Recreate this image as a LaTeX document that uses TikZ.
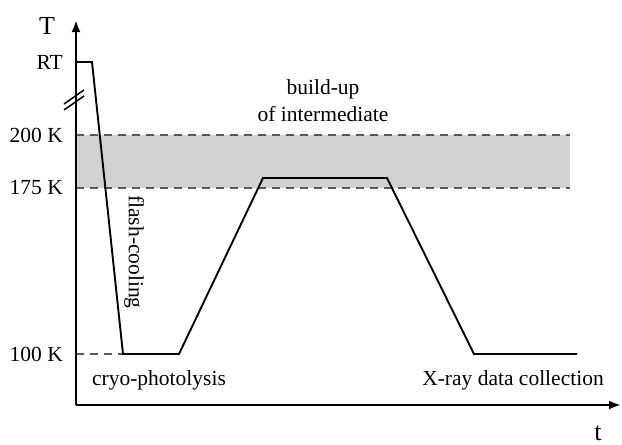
\documentclass[tikz,border=0pt]{standalone}
\usepackage{fontspec}
\setmainfont{Liberation Serif}
\usetikzlibrary{arrows.meta}
\begin{document}
\begin{tikzpicture}[x=1pt,y=-1pt,
  lbl/.style={font=\fontsize{21.5}{24}\selectfont, inner sep=0pt},
  big/.style={font=\fontsize{26}{28}\selectfont, inner sep=0pt},
  axis/.style={line width=2.5pt, -{Latex[length=12pt,width=9pt]}},
  curve/.style={line width=1.9pt, line join=miter},
  level/.style={line width=1.2pt, dash pattern=on 8pt off 6pt, black!65}]
\useasboundingbox (0,0) rectangle (622,445);
% band
\fill[gray!35] (76,135) rectangle (570,188);
\draw[level] (76,135) -- (570,135);
\draw[level] (76,188) -- (570,188);
\draw[level] (76,354) -- (123,354);
% axes
\coordinate (o) at (76,405);
\coordinate (ytip) at (76,20);
\coordinate (xtip) at (621,405);
\draw[axis] (o) -- (ytip);
\draw[axis] (o) -- (xtip);
% break marks
\draw[line width=1.5pt] (64,104) -- (84,90);
\draw[line width=1.5pt] (64,110) -- (84,96);
% curve
\draw[curve] (76,62) -- (92,62) -- (123,354) -- (179,354) -- (263,178) -- (387,178) -- (474,354) -- (577,354);
% labels
\node[big] (T) at (47,26) {T};
\node[big, anchor=base] (t) at (598,440) {t};
\node[lbl, anchor=east] (rt) at (63,62) {RT};
\node[lbl, anchor=east] (l200) at (63,135) {200 K};
\node[lbl, anchor=east] (l175) at (63,188) {175 K};
\node[lbl, anchor=east] (l100) at (63,354) {100 K};
\node[lbl] (b1) at (323,89) {build-up};
\node[lbl] (b2) at (323,114) {of intermediate};
\node[lbl, rotate=-90] (fc) at (134,252) {flash-cooling};
\node[lbl] (cp) at (159,380) {cryo-photolysis};
\node[lbl] (xr) at (513,380) {X-ray data collection};
\end{tikzpicture}
\end{document}
